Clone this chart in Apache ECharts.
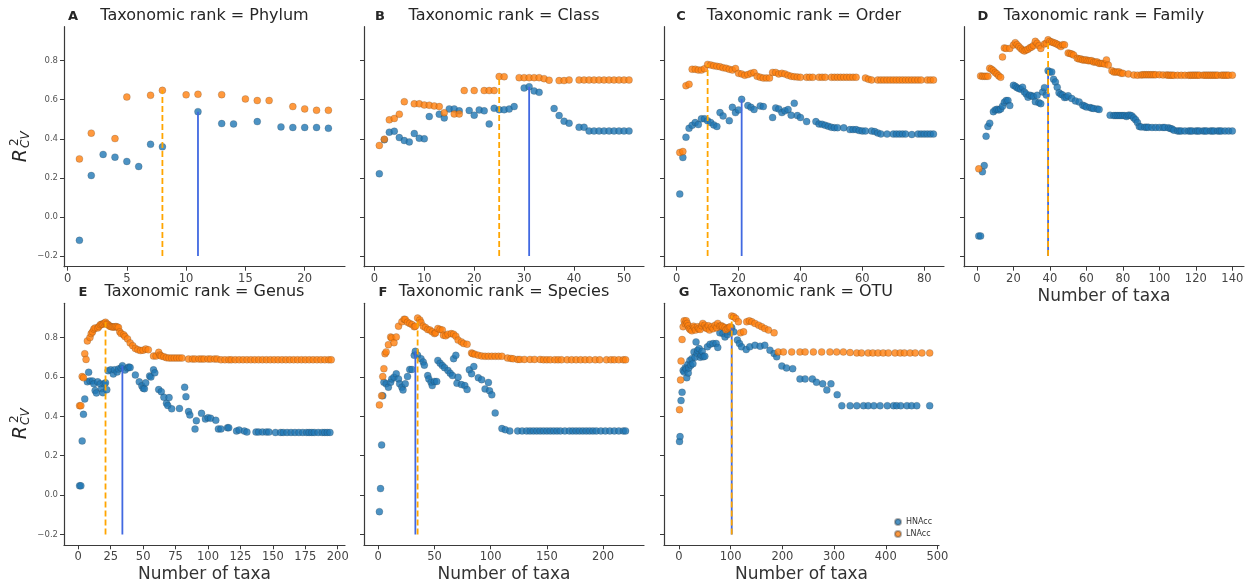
<!DOCTYPE html>
<html>
<head>
<meta charset="utf-8">
<script src="https://cdn.jsdelivr.net/npm/echarts@6/dist/echarts.min.js"></script>
<style>
  html, body { margin: 0; padding: 0; background: #fff; }
  #chart { width: 1247px; height: 588px; }
</style>
</head>
<body>
<div id="chart"></div>
<script>
// panel letters and taxonomic ranks
const letters = ["A", "B", "C", "D", "E", "F", "G"];
const ranks = ["Phylum", "Class", "Order", "Family", "Genus", "Species", "OTU"];

// tick labels
const yTicks = [-0.2, 0, 0.2, 0.4, 0.6, 0.8];
const xTicks = [
  [0, 5, 10, 15, 20],
  [0, 10, 20, 30, 40, 50],
  [0, 20, 40, 60, 80],
  [0, 20, 40, 60, 80, 100, 120, 140],
  [0, 25, 50, 75, 100, 125, 150, 175, 200],
  [0, 50, 100, 150, 200],
  [0, 100, 200, 300, 400, 500]
];

// [number of taxa, R2 CV]
const phylumHNA = [[1,-0.12],[2,0.212],[3,0.32],[4,0.306],[5,0.284],[6,0.258],[7,0.372],[8,0.359],[11,0.539],[13,0.478],[14,0.476],[16,0.488],[18,0.461],[19,0.458],[20,0.458],[21,0.458],[22,0.454]];
const phylumLNA = [[1,0.297],[2,0.429],[4,0.401],[5,0.614],[7,0.623],[8,0.648],[10,0.625],[11,0.628],[13,0.626],[15,0.604],[16,0.596],[17,0.596],[19,0.565],[20,0.553],[21,0.546],[22,0.546]];

const classHNA = [[1,0.221],[2,0.395],[3,0.434],[4,0.439],[5,0.406],[6,0.391],[7,0.384],[8,0.427],[9,0.403],[10,0.4],[11,0.514],[13,0.526],[14,0.507],[15,0.553],[16,0.553],[17,0.543],[19,0.545],[20,0.521],[21,0.548],[22,0.543],[23,0.476],[24,0.556],[25,0.549],[26,0.549],[27,0.552],[28,0.565],[30,0.66],[31,0.667],[32,0.645],[33,0.638],[36,0.555],[37,0.519],[38,0.49],[39,0.48],[41,0.459],[42,0.459],[43,0.44],[44,0.44],[45,0.44],[46,0.44],[47,0.44],[48,0.44],[49,0.44],[50,0.44],[51,0.44]];
const classLNA = [[1,0.366],[2,0.398],[3,0.497],[4,0.504],[5,0.526],[6,0.59],[8,0.579],[9,0.579],[10,0.573],[11,0.572],[12,0.568],[13,0.565],[14,0.533],[16,0.527],[17,0.527],[18,0.647],[20,0.647],[22,0.647],[23,0.647],[24,0.647],[25,0.719],[26,0.718],[29,0.713],[30,0.713],[31,0.713],[32,0.713],[33,0.713],[34,0.708],[35,0.7],[37,0.698],[38,0.698],[39,0.701],[41,0.701],[42,0.701],[43,0.701],[44,0.701],[45,0.701],[46,0.701],[47,0.701],[48,0.701],[49,0.701],[50,0.701],[51,0.701]];

const orderHNA = [[1,0.117],[2,0.304],[3,0.408],[4,0.454],[5,0.469],[6,0.483],[7,0.473],[8,0.502],[9,0.502],[10,0.492],[11,0.483],[12,0.471],[13,0.463],[14,0.534],[15,0.517],[17,0.493],[18,0.561],[19,0.534],[20,0.548],[21,0.602],[23,0.57],[24,0.561],[25,0.55],[27,0.568],[28,0.565],[31,0.509],[32,0.558],[33,0.553],[34,0.534],[35,0.543],[36,0.55],[37,0.521],[38,0.582],[39,0.519],[40,0.509],[42,0.488],[45,0.488],[46,0.476],[47,0.474],[48,0.469],[49,0.464],[50,0.459],[51,0.457],[52,0.457],[54,0.456],[56,0.447],[57,0.447],[58,0.447],[59,0.442],[60,0.44],[61,0.44],[63,0.44],[64,0.437],[65,0.43],[66,0.425],[68,0.424],[70,0.424],[71,0.424],[72,0.424],[73,0.424],[74,0.424],[76,0.422],[78,0.424],[79,0.424],[80,0.424],[81,0.424],[82,0.424],[83,0.424]];
const orderLNA = [[1,0.33],[2,0.335],[3,0.672],[4,0.679],[5,0.756],[6,0.756],[7,0.752],[8,0.752],[9,0.759],[10,0.781],[11,0.778],[12,0.774],[13,0.771],[14,0.769],[15,0.764],[16,0.761],[17,0.756],[18,0.752],[19,0.76],[20,0.735],[21,0.732],[22,0.725],[23,0.729],[24,0.735],[25,0.739],[26,0.72],[27,0.715],[28,0.711],[29,0.711],[30,0.711],[31,0.74],[32,0.74],[33,0.732],[34,0.735],[35,0.732],[36,0.725],[37,0.72],[38,0.718],[39,0.716],[40,0.715],[42,0.715],[43,0.715],[44,0.715],[46,0.715],[47,0.715],[48,0.715],[50,0.715],[51,0.715],[52,0.715],[53,0.715],[54,0.715],[55,0.715],[56,0.715],[57,0.715],[58,0.715],[61,0.711],[62,0.705],[63,0.701],[65,0.701],[66,0.701],[67,0.701],[68,0.701],[69,0.701],[70,0.701],[71,0.701],[72,0.701],[73,0.701],[74,0.701],[75,0.701],[76,0.701],[77,0.701],[78,0.701],[79,0.701],[81,0.701],[82,0.701],[83,0.701]];

const familyHNA = [[1,-0.098],[2,-0.098],[3,0.231],[4,0.263],[5,0.413],[6,0.463],[7,0.48],[9,0.539],[10,0.548],[11,0.551],[12,0.548],[13,0.553],[14,0.567],[15,0.587],[16,0.596],[17,0.596],[18,0.57],[20,0.674],[21,0.669],[22,0.662],[23,0.657],[24,0.654],[25,0.664],[26,0.64],[27,0.63],[28,0.613],[29,0.623],[30,0.62],[31,0.616],[32,0.59],[33,0.623],[34,0.585],[35,0.58],[36,0.64],[37,0.662],[38,0.624],[39,0.749],[40,0.742],[41,0.742],[42,0.705],[43,0.691],[44,0.664],[45,0.636],[46,0.628],[47,0.624],[48,0.611],[49,0.613],[50,0.62],[52,0.606],[54,0.594],[56,0.589],[58,0.572],[59,0.568],[60,0.563],[62,0.56],[63,0.557],[64,0.555],[66,0.553],[67,0.55],[73,0.521],[75,0.519],[76,0.519],[77,0.519],[78,0.519],[79,0.519],[80,0.519],[81,0.519],[82,0.514],[83,0.521],[84,0.521],[85,0.517],[86,0.507],[87,0.497],[88,0.483],[89,0.463],[90,0.461],[92,0.459],[93,0.459],[94,0.459],[96,0.458],[98,0.458],[100,0.458],[102,0.458],[103,0.458],[105,0.456],[106,0.453],[107,0.45],[108,0.444],[110,0.44],[111,0.44],[112,0.44],[114,0.44],[116,0.44],[117,0.44],[118,0.44],[120,0.44],[121,0.44],[122,0.44],[124,0.44],[125,0.44],[126,0.44],[128,0.44],[129,0.44],[130,0.44],[132,0.44],[133,0.44],[134,0.44],[136,0.44],[138,0.44],[140,0.44]];
const familyLNA = [[1,0.246],[2,0.722],[3,0.72],[4,0.72],[5,0.72],[6,0.72],[7,0.761],[8,0.756],[9,0.749],[10,0.739],[11,0.732],[12,0.722],[13,0.715],[14,0.819],[15,0.865],[16,0.863],[18,0.863],[20,0.88],[21,0.892],[22,0.882],[23,0.872],[24,0.863],[25,0.855],[26,0.85],[27,0.855],[28,0.858],[29,0.866],[30,0.87],[31,0.878],[32,0.899],[33,0.889],[34,0.877],[35,0.863],[37,0.885],[38,0.889],[39,0.907],[40,0.899],[41,0.896],[42,0.892],[43,0.889],[44,0.884],[45,0.879],[46,0.872],[47,0.882],[48,0.881],[50,0.839],[51,0.837],[52,0.834],[53,0.829],[55,0.812],[56,0.809],[57,0.809],[58,0.804],[59,0.804],[60,0.804],[61,0.8],[62,0.8],[63,0.8],[64,0.793],[65,0.793],[66,0.793],[67,0.786],[68,0.786],[69,0.786],[70,0.783],[71,0.804],[72,0.778],[74,0.749],[75,0.742],[76,0.742],[77,0.742],[78,0.742],[79,0.735],[80,0.735],[83,0.732],[86,0.727],[88,0.726],[90,0.727],[91,0.728],[92,0.728],[93,0.728],[94,0.728],[95,0.728],[96,0.728],[97,0.728],[98,0.728],[100,0.728],[102,0.727],[104,0.727],[105,0.726],[106,0.726],[107,0.726],[108,0.725],[110,0.725],[112,0.725],[114,0.725],[116,0.725],[117,0.725],[118,0.726],[119,0.726],[120,0.726],[121,0.726],[122,0.726],[124,0.726],[125,0.726],[126,0.726],[127,0.726],[128,0.726],[129,0.726],[130,0.726],[131,0.726],[132,0.726],[134,0.726],[135,0.726],[136,0.726],[137,0.726],[138,0.726],[140,0.726]];

const genusHNA = [[1,0.047],[2,0.047],[3,0.275],[4,0.41],[5,0.488],[7,0.575],[8,0.624],[9,0.58],[11,0.579],[12,0.565],[13,0.531],[14,0.519],[15,0.575],[17,0.565],[18,0.54],[19,0.52],[20,0.565],[21,0.57],[22,0.535],[23,0.632],[25,0.636],[27,0.615],[28,0.636],[30,0.625],[31,0.64],[33,0.645],[34,0.657],[36,0.635],[38,0.645],[39,0.65],[40,0.648],[44,0.61],[47,0.575],[49,0.555],[50,0.543],[51,0.54],[52,0.57],[55,0.605],[56,0.6],[58,0.636],[59,0.621],[62,0.536],[64,0.525],[66,0.497],[68,0.466],[69,0.455],[70,0.495],[72,0.438],[78,0.44],[82,0.548],[83,0.5],[85,0.424],[86,0.407],[90,0.335],[91,0.378],[95,0.415],[98,0.386],[100,0.393],[102,0.39],[106,0.38],[108,0.336],[110,0.336],[115,0.342],[116,0.342],[122,0.325],[124,0.33],[128,0.325],[130,0.32],[137,0.32],[139,0.32],[142,0.32],[145,0.32],[147,0.32],[152,0.318],[156,0.318],[158,0.318],[161,0.318],[164,0.318],[167,0.318],[170,0.318],[173,0.318],[176,0.318],[178,0.318],[180,0.318],[182,0.318],[185,0.318],[188,0.318],[190,0.318],[192,0.318],[194,0.318]];
const genusLNA = [[1,0.454],[2,0.454],[3,0.602],[4,0.596],[5,0.718],[6,0.689],[7,0.783],[9,0.8],[10,0.82],[11,0.829],[12,0.843],[13,0.849],[15,0.849],[16,0.856],[17,0.865],[18,0.868],[19,0.868],[20,0.873],[21,0.878],[22,0.869],[23,0.866],[24,0.859],[25,0.856],[26,0.854],[27,0.854],[28,0.854],[29,0.856],[30,0.854],[31,0.851],[32,0.829],[33,0.82],[35,0.814],[36,0.805],[38,0.793],[40,0.773],[42,0.759],[44,0.745],[46,0.738],[48,0.734],[50,0.736],[52,0.742],[54,0.738],[58,0.706],[60,0.706],[62,0.725],[63,0.711],[64,0.706],[66,0.703],[68,0.698],[70,0.696],[72,0.696],[74,0.696],[76,0.696],[78,0.696],[80,0.696],[85,0.691],[88,0.691],[90,0.691],[93,0.691],[95,0.691],[97,0.691],[100,0.691],[102,0.691],[105,0.691],[107,0.691],[110,0.687],[113,0.687],[116,0.687],[118,0.687],[121,0.687],[124,0.687],[127,0.687],[130,0.687],[133,0.687],[136,0.687],[139,0.687],[142,0.687],[145,0.687],[148,0.687],[151,0.687],[154,0.687],[157,0.687],[160,0.687],[163,0.687],[166,0.687],[169,0.687],[172,0.687],[175,0.687],[178,0.687],[181,0.687],[184,0.687],[187,0.687],[190,0.687],[193,0.687],[195,0.687]];

const speciesHNA = [[1,-0.084],[2,0.033],[3,0.255],[4,0.504],[5,0.573],[7,0.565],[9,0.548],[11,0.573],[12,0.59],[14,0.599],[16,0.616],[18,0.59],[19,0.565],[21,0.548],[22,0.534],[24,0.565],[26,0.602],[28,0.638],[30,0.638],[32,0.71],[33,0.73],[35,0.71],[38,0.693],[40,0.676],[41,0.66],[44,0.607],[45,0.59],[47,0.573],[48,0.556],[50,0.577],[52,0.577],[53,0.684],[55,0.67],[57,0.658],[59,0.647],[62,0.633],[64,0.619],[66,0.607],[67,0.693],[69,0.71],[70,0.568],[71,0.599],[74,0.561],[77,0.556],[79,0.536],[81,0.636],[83,0.616],[85,0.653],[89,0.596],[92,0.586],[95,0.539],[98,0.572],[99,0.53],[101,0.509],[104,0.417],[110,0.338],[113,0.332],[117,0.326],[124,0.326],[128,0.326],[132,0.326],[135,0.326],[138,0.326],[141,0.326],[144,0.326],[147,0.326],[150,0.326],[153,0.326],[156,0.326],[159,0.326],[162,0.326],[166,0.326],[170,0.326],[173,0.326],[176,0.326],[179,0.326],[182,0.326],[185,0.326],[188,0.326],[191,0.326],[194,0.326],[198,0.326],[202,0.326],[206,0.326],[210,0.326],[214,0.326],[218,0.326],[220,0.326]];
const speciesLNA = [[1,0.458],[3,0.505],[4,0.602],[5,0.642],[6,0.718],[7,0.727],[9,0.764],[11,0.803],[12,0.798],[14,0.774],[16,0.803],[18,0.858],[21,0.88],[23,0.893],[24,0.892],[26,0.878],[28,0.872],[30,0.866],[32,0.855],[33,0.858],[35,0.899],[37,0.889],[38,0.877],[40,0.858],[42,0.851],[44,0.841],[46,0.838],[48,0.829],[50,0.82],[51,0.824],[53,0.846],[55,0.841],[57,0.838],[58,0.812],[60,0.809],[62,0.817],[65,0.82],[67,0.817],[69,0.807],[71,0.787],[74,0.778],[76,0.77],[79,0.766],[83,0.722],[84,0.718],[86,0.715],[89,0.71],[92,0.706],[95,0.705],[98,0.705],[101,0.705],[104,0.705],[107,0.705],[110,0.705],[115,0.696],[118,0.694],[120,0.692],[124,0.689],[126,0.689],[130,0.689],[135,0.689],[139,0.689],[144,0.689],[147,0.687],[150,0.687],[153,0.687],[157,0.687],[160,0.687],[163,0.687],[168,0.687],[172,0.687],[176,0.687],[180,0.687],[184,0.687],[188,0.687],[193,0.687],[197,0.687],[203,0.687],[207,0.687],[210,0.687],[214,0.687],[218,0.687],[220,0.687]];

const otuHNA = [[1,0.272],[2,0.297],[4,0.48],[6,0.522],[8,0.633],[10,0.625],[12,0.647],[14,0.64],[15,0.596],[17,0.663],[18,0.62],[19,0.646],[21,0.684],[23,0.66],[25,0.693],[27,0.667],[29,0.727],[31,0.7],[33,0.778],[35,0.72],[36,0.735],[39,0.744],[41,0.7],[43,0.71],[45,0.73],[47,0.702],[50,0.705],[55,0.753],[60,0.766],[66,0.77],[72,0.77],[75,0.75],[79,0.824],[85,0.82],[89,0.803],[94,0.815],[99,0.829],[102,0.851],[106,0.829],[113,0.787],[117,0.77],[121,0.753],[130,0.739],[137,0.753],[147,0.761],[157,0.756],[166,0.761],[176,0.736],[184,0.719],[189,0.702],[199,0.655],[208,0.646],[220,0.642],[234,0.59],[244,0.59],[258,0.59],[266,0.573],[278,0.565],[286,0.534],[294,0.565],[306,0.51],[315,0.454],[331,0.454],[344,0.454],[357,0.454],[366,0.454],[377,0.454],[389,0.454],[403,0.454],[415,0.454],[421,0.454],[429,0.454],[441,0.454],[450,0.454],[460,0.454],[485,0.454]];
const otuLNA = [[1,0.434],[3,0.585],[4,0.681],[6,0.79],[8,0.855],[10,0.885],[12,0.87],[14,0.885],[16,0.872],[18,0.86],[20,0.846],[22,0.84],[25,0.834],[28,0.858],[30,0.85],[32,0.838],[36,0.855],[38,0.845],[41,0.841],[44,0.86],[46,0.872],[50,0.863],[52,0.85],[54,0.846],[57,0.86],[59,0.838],[63,0.855],[66,0.845],[70,0.863],[73,0.85],[75,0.872],[79,0.858],[82,0.86],[85,0.855],[89,0.851],[91,0.84],[94,0.846],[97,0.851],[99,0.855],[102,0.909],[106,0.906],[110,0.897],[115,0.88],[119,0.824],[125,0.829],[131,0.88],[136,0.885],[141,0.88],[147,0.872],[154,0.863],[160,0.855],[166,0.846],[173,0.838],[184,0.824],[192,0.727],[202,0.727],[218,0.727],[234,0.727],[244,0.727],[260,0.727],[276,0.727],[292,0.727],[305,0.727],[318,0.727],[331,0.724],[344,0.722],[353,0.722],[366,0.722],[375,0.722],[385,0.722],[395,0.722],[405,0.722],[418,0.722],[428,0.722],[436,0.722],[447,0.722],[457,0.722],[470,0.722],[485,0.722]];

const hnaSets = [phylumHNA, classHNA, orderHNA, familyHNA, genusHNA, speciesHNA, otuHNA];
const lnaSets = [phylumLNA, classLNA, orderLNA, familyLNA, genusLNA, speciesLNA, otuLNA];

// layout of the seven panels (pixels) and their x ranges
const layout = [
  { left: 64,  top: 26.7,  width: 281, height: 240, xMin: -0.3,  xMax: 23.4 },
  { left: 364, top: 26.7,  width: 280, height: 240, xMin: -2.07, xMax: 54 },
  { left: 664, top: 26.7,  width: 280, height: 240, xMin: -4.1,  xMax: 86.4 },
  { left: 964, top: 26.7,  width: 280, height: 240, xMin: -7.1,  xMax: 146.4 },
  { left: 64,  top: 303.3, width: 281, height: 242, xMin: -11,   xMax: 205.6 },
  { left: 364, top: 303.3, width: 280, height: 242, xMin: -12.7, xMax: 236.4 },
  { left: 664, top: 303.3, width: 275, height: 242, xMin: -29,   xMax: 503 }
];
const letterX = [73, 380, 681, 983, 83, 383, 684];
const Y_MIN = -0.255, Y_MAX = 0.974, LINE_BASE = -0.2;

const FONT = "DejaVu Sans";
const AXIS_COLOR = "#3a3a3a";
const BLUE = "#1f77b4", ORANGE = "#ff7f0e";

function peakOf(arr) {
  let best = arr[0];
  arr.forEach(p => { if (p[1] > best[1]) best = p; });
  return best;
}

const fmtY = v => (v < 0 ? "\u2212" : "") + Math.abs(v).toFixed(1);

let chart = echarts.init(document.getElementById("chart"));

const grids = [], xAxes = [], yAxes = [], series = [], graphics = [];

layout.forEach((g, i) => {
  grids.push({ left: g.left, top: g.top, width: g.width, height: g.height, containLabel: false });
  const showName = i >= 3;
  xAxes.push({
    gridIndex: i, type: "value", min: g.xMin, max: g.xMax,
    axisLine: { onZero: false, lineStyle: { color: AXIS_COLOR, width: 1.2 } },
    axisTick: { customValues: xTicks[i], length: 4, lineStyle: { color: AXIS_COLOR } },
    axisLabel: { customValues: xTicks[i], fontSize: 11.5, color: "#444", margin: 6, fontFamily: FONT },
    splitLine: { show: false },
    name: showName ? "Number of taxa" : "",
    nameLocation: "middle", nameGap: 21,
    nameTextStyle: { fontSize: 17, color: "#333", fontFamily: FONT }
  });
  const labelled = (i === 0 || i === 4);
  yAxes.push({
    gridIndex: i, type: "value", min: Y_MIN, max: Y_MAX,
    axisLine: { show: true, onZero: false, lineStyle: { color: AXIS_COLOR, width: 1.2 } },
    axisTick: { show: true, customValues: yTicks, length: 4, lineStyle: { color: AXIS_COLOR } },
    axisLabel: { show: labelled, customValues: yTicks, fontSize: 8.5, color: "#555", margin: 6, fontFamily: FONT, formatter: fmtY },
    splitLine: { show: false }
  });

  series.push({
    type: "scatter", name: "HNAcc", xAxisIndex: i, yAxisIndex: i, data: hnaSets[i],
    symbolSize: 7, z: 2,
    itemStyle: { color: BLUE, opacity: 0.8, borderColor: "rgba(40,40,40,0.45)", borderWidth: 0.5 }
  });
  series.push({
    type: "scatter", name: "LNAcc", xAxisIndex: i, yAxisIndex: i, data: lnaSets[i],
    symbolSize: 7, z: 3,
    itemStyle: { color: ORANGE, opacity: 0.8, borderColor: "rgba(40,40,40,0.45)", borderWidth: 0.5 }
  });

  const pb = peakOf(hnaSets[i]);
  const po = peakOf(lnaSets[i]);
  series.push({
    type: "line", xAxisIndex: i, yAxisIndex: i, silent: true, z: 4,
    data: [[pb[0], LINE_BASE], [pb[0], pb[1]]], symbol: "none",
    lineStyle: { color: "#4169e1", width: 1.8 }
  });
  series.push({
    type: "line", xAxisIndex: i, yAxisIndex: i, silent: true, z: 5,
    data: [[po[0], LINE_BASE], [po[0], po[1]]], symbol: "none",
    lineStyle: { color: "#ffa500", width: 1.8, type: [6, 3] }
  });

  // panel title and letter
  const ty = i < 4 ? 16 : 292;
  graphics.push({
    type: "text", x: g.left + g.width / 2, y: ty,
    style: { text: "Taxonomic rank = " + ranks[i], font: "16px '" + FONT + "'", fill: "#262626", align: "center", verticalAlign: "middle" }
  });
  graphics.push({
    type: "text", x: letterX[i], y: ty + 1,
    style: { text: letters[i], font: "bold 13px '" + FONT + "'", fill: "#262626", align: "center", verticalAlign: "middle" }
  });
});

// y-axis label R^2_CV, turned to read upwards (each piece rotated on its own)
const QUARTER = Math.PI / 2;
[149, 426].forEach(cy => {
  graphics.push({
    type: "text", x: 21, y: cy, rotation: QUARTER, originX: 0, originY: 0,
    style: { text: "R", font: "italic 19px '" + FONT + "'", fill: "#262626", align: "right", verticalAlign: "middle" }
  });
  graphics.push({
    type: "text", x: 15, y: cy - 3, rotation: QUARTER, originX: 0, originY: 0,
    style: { text: "2", font: "12px '" + FONT + "'", fill: "#262626", align: "left", verticalAlign: "middle" }
  });
  graphics.push({
    type: "text", x: 26, y: cy - 1, rotation: QUARTER, originX: 0, originY: 0,
    style: { text: "CV", font: "italic 12px '" + FONT + "'", fill: "#262626", align: "left", verticalAlign: "middle" }
  });
});

let option = {
  animation: false,
  backgroundColor: "#fff",
  grid: grids,
  xAxis: xAxes,
  yAxis: yAxes,
  series: series,
  legend: {
    data: ["HNAcc", "LNAcc"], orient: "vertical", left: 889, top: 513,
    icon: "circle", itemWidth: 6, itemHeight: 6, itemGap: 4,
    textStyle: { fontSize: 8, color: "#333", fontFamily: FONT }
  },
  graphic: graphics
};

option && chart.setOption(option);
</script>
</body>
</html>
